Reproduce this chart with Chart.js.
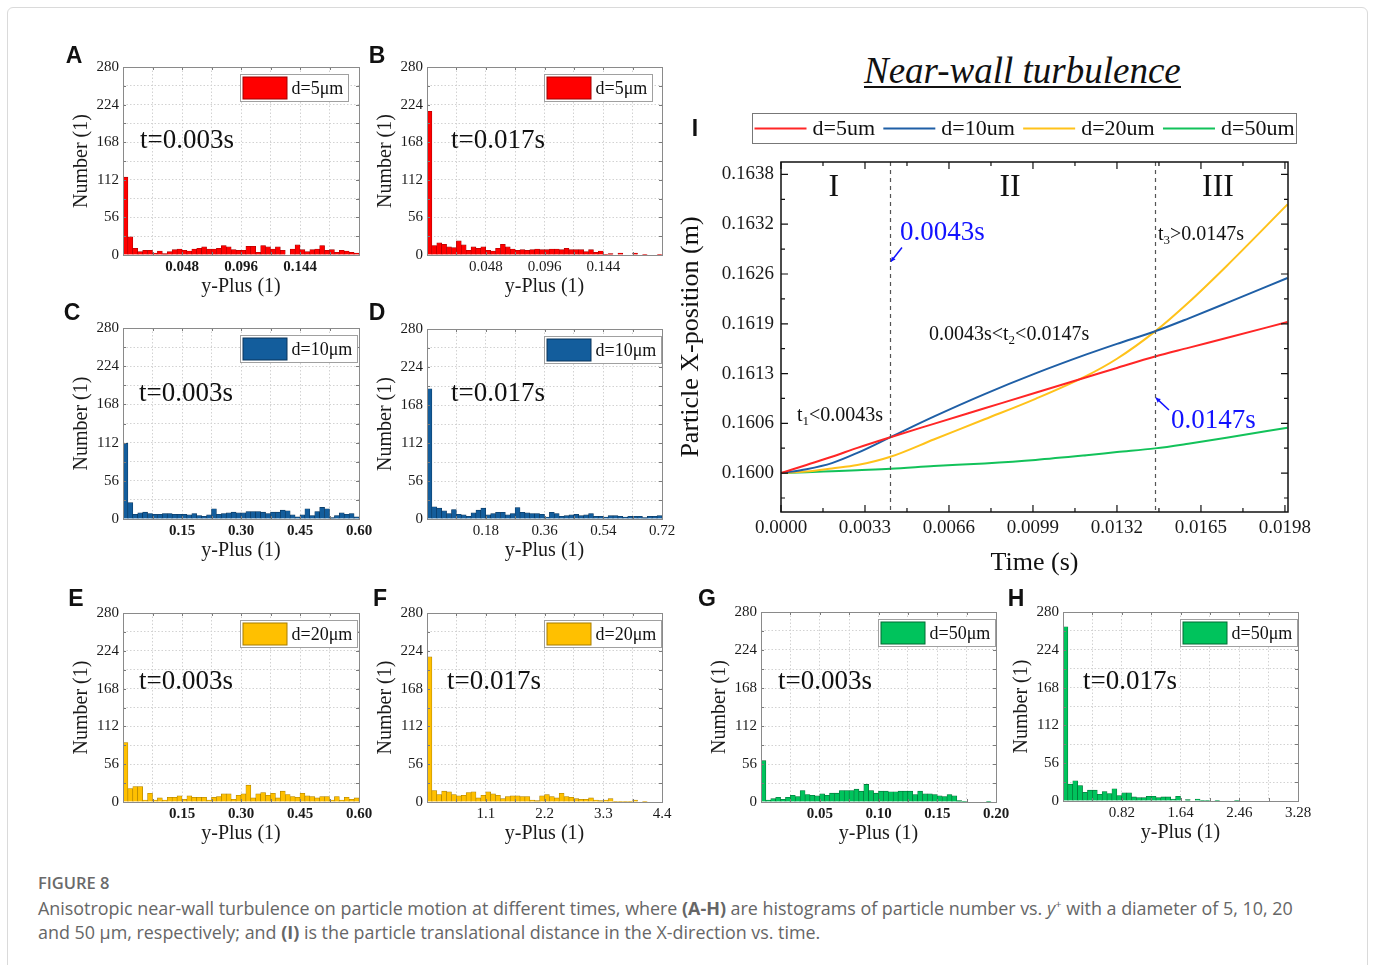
<!DOCTYPE html>
<html>
<head>
<meta charset="utf-8">
<title>Near-wall turbulence</title>
<script src="https://cdn.jsdelivr.net/npm/chart.js@4.4.1/dist/chart.umd.min.js"></script>
<style>
  html, body { margin: 0; padding: 0; background: #fff; }
  body { width: 1373px; height: 965px; position: relative; overflow: hidden; }
  .card { position: absolute; left: 7px; top: 7px; width: 1359px; height: 990px; border: 1px solid #dadada; border-radius: 6px; }
  canvas { position: absolute; }
  .tag { position: absolute; font: bold 23px "Liberation Sans", Arial, sans-serif; color: #111; line-height: 23px; transform: translate(-50%, -50%); }
  .heading { position: absolute; left: 864px; top: 49px; height: 37px; line-height: 37px; font: italic 37px "Liberation Serif", serif; color: #111; border-bottom: 2px solid #111; white-space: nowrap; }
  .fig { position: absolute; left: 38px; top: 871px; font: 600 16.5px "Open Sans", sans-serif; color: #6a6a6a; }
  .cap { position: absolute; left: 38px; top: 892px; font: 17.9px/24px "Open Sans", sans-serif; color: #666; white-space: nowrap; }
</style>
</head>
<body>
<div class="card"></div>

<div class="heading">Near-wall turbulence</div>

<canvas id="cA"></canvas><canvas id="cB"></canvas>
<canvas id="cC"></canvas><canvas id="cD"></canvas>
<canvas id="cE"></canvas><canvas id="cF"></canvas>
<canvas id="cG"></canvas><canvas id="cH"></canvas>
<canvas id="cI" width="646" height="485" style="left:672px;top:100px"></canvas>

<div class="tag" style="left:74px;top:55px">A</div>
<div class="tag" style="left:377px;top:55px">B</div>
<div class="tag" style="left:72px;top:312px">C</div>
<div class="tag" style="left:377px;top:312px">D</div>
<div class="tag" style="left:76px;top:598px">E</div>
<div class="tag" style="left:380px;top:598px">F</div>
<div class="tag" style="left:707px;top:598px">G</div>
<div class="tag" style="left:1016px;top:598px">H</div>
<div class="tag" style="left:695px;top:128px">I</div>

<div class="fig">FIGURE 8</div>
<div class="cap">Anisotropic near-wall turbulence on particle motion at different times, where <b>(A-H)</b> are histograms of particle number vs. <i>y</i><sup style="font-size:11px">+</sup> with a diameter of 5, 10, 20<br>and 50 μm, respectively; and <b>(I)</b> is the particle translational distance in the X-direction vs. time.</div>

<script>
// ---------- histogram counts (48 equal bins from 0 to the axis maximum) ----------
const countsA = [116, 27, 10, 5, 7, 7, 3, 6, 2, 5, 8, 9, 7, 6, 9, 10, 12, 9, 9, 10, 14, 12, 8, 7,
                 7, 13, 13, 4, 14, 12, 9, 12, 7, 0, 9, 15, 8, 5, 8, 9, 14, 7, 8, 4, 7, 6, 4, 3];
const countsB = [214, 14, 18, 16, 12, 11, 21, 15, 7, 12, 10, 12, 7, 6, 10, 16, 12, 9, 7, 8, 7, 8, 9, 8,
                 8, 9, 9, 8, 10, 8, 8, 8, 5, 8, 4, 6, 1, 2, 0, 3, 0, 0, 3, 0, 1, 0, 0, 1];
const countsC = [111, 24, 7, 9, 10, 8, 7, 7, 8, 8, 7, 7, 7, 6, 8, 5, 4, 6, 15, 7, 8, 9, 10, 9,
                 9, 11, 11, 11, 10, 8, 10, 10, 13, 12, 6, 3, 6, 15, 5, 11, 17, 15, 2, 5, 9, 7, 8, 3];
const countsD = [192, 18, 16, 12, 8, 14, 7, 6, 4, 9, 13, 16, 6, 8, 10, 10, 6, 8, 17, 10, 9, 8, 8, 7,
                 3, 10, 8, 4, 5, 6, 7, 5, 6, 8, 4, 4, 3, 5, 5, 4, 3, 4, 4, 4, 2, 4, 4, 5];
const countsE = [88, 20, 23, 23, 3, 13, 3, 6, 3, 7, 7, 9, 4, 9, 7, 7, 7, 3, 7, 8, 12, 12, 4, 10,
                 12, 25, 6, 12, 14, 10, 13, 6, 16, 11, 8, 7, 13, 9, 8, 6, 8, 8, 3, 8, 3, 7, 4, 6];
const countsF = [215, 17, 11, 16, 15, 11, 9, 10, 14, 15, 6, 10, 15, 12, 10, 5, 8, 9, 9, 8, 8, 3, 2, 9,
                 11, 8, 6, 13, 8, 7, 5, 4, 4, 6, 3, 2, 3, 5, 1, 1, 1, 1, 3, 0, 1, 0, 0, 0];
const countsG = [61, 3, 5, 7, 4, 7, 10, 8, 17, 11, 10, 9, 12, 10, 13, 13, 17, 17, 17, 19, 16, 26, 17, 13,
                 16, 16, 15, 15, 16, 16, 16, 11, 16, 12, 12, 11, 9, 8, 11, 9, 2, 1, 0, 0, 0, 0, 1, 0];
const countsH = [258, 25, 30, 23, 13, 16, 16, 10, 14, 11, 18, 8, 12, 12, 6, 5, 5, 7, 7, 5, 6, 6, 3, 7,
                 0, 2, 0, 3, 1, 1, 0, 1, 0, 0, 0, 1, 0, 0, 0, 0, 0, 0, 0, 0, 0, 0, 0, 0];

const countTicks = [0, 28, 56, 84, 112, 140, 168, 196, 224, 252, 280];

// ---------- particle X-position vs time ----------
const timeS  = [0, 0.001, 0.002, 0.003, 0.0043, 0.006, 0.008, 0.010, 0.012, 0.0132, 0.0147, 0.016, 0.0175, 0.0199];
const posD5  = [0.16, 0.160105, 0.160210, 0.160325, 0.160462, 0.160633, 0.160833, 0.161033, 0.161232, 0.161352, 0.161499, 0.161610, 0.161737, 0.161942];
const posD10 = [0.16, 0.160051, 0.160129, 0.160260, 0.160462, 0.160726, 0.161016, 0.161282, 0.161526, 0.161662, 0.161824, 0.161987, 0.162185, 0.162509];
const posD20 = [0.16, 0.160021, 0.160060, 0.160103, 0.160210, 0.160432, 0.160692, 0.160955, 0.161250, 0.161470, 0.161822, 0.162190, 0.162660, 0.163454];
const posD50 = [0.16, 0.160012, 0.160025, 0.160038, 0.160055, 0.160090, 0.160125, 0.160170, 0.160230, 0.160270, 0.160318, 0.160378, 0.160455, 0.160584];

const phaseBounds = [0.0043, 0.0147];
const phaseLabels = ['I', 'II', 'III'];
const phaseLabelT = [0.00208, 0.0090, 0.01717];

const SERIF = '"Liberation Serif", "Times New Roman", serif';

const COLORS = {
  red:    { fill: '#ff0000', edge: '#a00000', line: '#ff2626' },
  blue:   { fill: '#135d9c', edge: '#0a345a', line: '#1f5fa6' },
  yellow: { fill: '#ffc000', edge: '#a67c00', line: '#ffc21a' },
  green:  { fill: '#00c35c', edge: '#006a32', line: '#12c25a' }
};

// frame, inward ticks, legend box and time label for the histogram panels
const histDecor = {
  id: 'histDecor',
  afterDatasetsDraw(chart, args, o) {
    const ctx = chart.ctx, a = chart.chartArea;
    ctx.save();
    ctx.strokeStyle = '#7a7a7a';
    ctx.lineWidth = 1;
    chart.scales.xv.ticks.forEach(t => {
      const px = Math.round(chart.scales.xv.getPixelForValue(t.value)) + 0.5;
      ctx.beginPath();
      ctx.moveTo(px, a.bottom); ctx.lineTo(px, a.bottom - 3);
      ctx.moveTo(px, a.top); ctx.lineTo(px, a.top + 3);
      ctx.stroke();
    });
    chart.scales.y.ticks.forEach(t => {
      const py = Math.round(chart.scales.y.getPixelForValue(t.value)) + 0.5;
      ctx.beginPath();
      ctx.moveTo(a.left, py); ctx.lineTo(a.left + 3, py);
      ctx.moveTo(a.right, py); ctx.lineTo(a.right - 3, py);
      ctx.stroke();
    });
    ctx.strokeStyle = '#8a8a8a';
    ctx.strokeRect(Math.round(a.left) + 0.5, Math.round(a.top) + 0.5,
                   Math.round(a.right - a.left), Math.round(a.bottom - a.top));

    // legend
    const ds = chart.data.datasets[0];
    ctx.font = '18px ' + SERIF;
    const tw = ctx.measureText(ds.label).width;
    const bx = Math.round(a.left + 117) + 0.5, by = Math.round(a.top + 7) + 0.5;
    const bw = Math.round(2 + 44 + 5 + tw + 5), bh = 27;
    ctx.fillStyle = '#fff';
    ctx.fillRect(bx, by, bw, bh);
    ctx.strokeStyle = '#a0a0a0';
    ctx.strokeRect(bx, by, bw, bh);
    ctx.fillStyle = ds.backgroundColor;
    ctx.fillRect(bx + 2.5, by + 2.5, 44, bh - 5);
    ctx.strokeStyle = ds.borderColor;
    ctx.strokeRect(bx + 2.5, by + 2.5, 44, bh - 5);
    ctx.fillStyle = '#111';
    ctx.textBaseline = 'middle';
    ctx.textAlign = 'left';
    ctx.fillText(ds.label, bx + 51, by + bh / 2 + 1);

    // time stamp
    ctx.font = '27px ' + SERIF;
    ctx.fillText(o.time, a.left + o.timeAt[0], a.top + o.timeAt[1]);
    ctx.restore();
  }
};

const histPanels = [
  { id: 'cA', rect: [123, 66, 359, 255], counts: countsA, c: COLORS.red,    label: 'd=5μm',  time: 't=0.003s', timeAt: [17, 74], xMax: 0.192, step: 0.024, dec: 3, lastLabel: false, bold: true },
  { id: 'cB', rect: [427, 66, 662, 255], counts: countsB, c: COLORS.red,    label: 'd=5μm',  time: 't=0.017s', timeAt: [24, 74], xMax: 0.192, step: 0.024, dec: 3, lastLabel: false, bold: false },
  { id: 'cC', rect: [123, 327, 359, 519], counts: countsC, c: COLORS.blue,  label: 'd=10μm', time: 't=0.003s', timeAt: [16, 66], xMax: 0.60, step: 0.075, dec: 2, lastLabel: true, bold: true },
  { id: 'cD', rect: [427, 328, 662, 519], counts: countsD, c: COLORS.blue,  label: 'd=10μm', time: 't=0.017s', timeAt: [24, 65], xMax: 0.72, step: 0.09, dec: 2, lastLabel: true, bold: false },
  { id: 'cE', rect: [123, 612, 359, 802], counts: countsE, c: COLORS.yellow, label: 'd=20μm', time: 't=0.003s', timeAt: [16, 69], xMax: 0.60, step: 0.075, dec: 2, lastLabel: true, bold: true },
  { id: 'cF', rect: [427, 612, 662, 802], counts: countsF, c: COLORS.yellow, label: 'd=20μm', time: 't=0.017s', timeAt: [20, 69], xMax: 4.4, step: 0.55, dec: 1, lastLabel: true, bold: false },
  { id: 'cG', rect: [761, 611, 996, 802], counts: countsG, c: COLORS.green, label: 'd=50μm', time: 't=0.003s', timeAt: [17, 70], xMax: 0.20, step: 0.025, dec: 2, lastLabel: true, bold: true },
  { id: 'cH', rect: [1063, 611, 1298, 801], counts: countsH, c: COLORS.green, label: 'd=50μm', time: 't=0.017s', timeAt: [20, 70], xMax: 3.28, step: 0.41, dec: 2, lastLabel: true, bold: false }
];

function makeHistogram(p) {
  const [L, T, R, B] = p.rect;
  const padL = 53, padT = 12, padR = 20, padB = 44;
  const cv = document.getElementById(p.id);
  cv.width = R - L + padL + padR;
  cv.height = B - T + padT + padB;
  cv.style.left = (L - padL) + 'px';
  cv.style.top = (T - padT) + 'px';
  const n = Math.round(p.xMax / p.step);

  new Chart(cv, {
    type: 'bar',
    data: {
      labels: p.counts.map((_, i) => String(i)),
      datasets: [{
        label: p.label,
        data: p.counts,
        backgroundColor: p.c.fill,
        borderColor: p.c.edge,
        borderWidth: 0.6,
        barPercentage: 1,
        categoryPercentage: 1,
        xAxisID: 'x',
        yAxisID: 'y'
      }]
    },
    options: {
      responsive: false,
      animation: false,
      layout: { padding: { left: 0, top: padT, right: padR, bottom: 0 } },
      plugins: { legend: { display: false }, tooltip: { enabled: false }, histDecor: { time: p.time, timeAt: p.timeAt } },
      scales: {
        x: { type: 'category', display: false, offset: true },
        xv: {
          type: 'linear', position: 'bottom', min: 0, max: p.xMax, offset: false,
          afterBuildTicks: s => { s.ticks = []; for (let k = 0; k <= n; k++) s.ticks.push({ value: k * p.step }); },
          ticks: {
            autoSkip: false, maxRotation: 0, padding: 3, color: '#1a1a1a',
            font: { family: SERIF, size: 15, weight: p.bold ? 'bold' : 'normal' },
            callback: (v, k) => (k % 2 === 0 && k > 0 && (k < n || p.lastLabel)) ? (k * p.step).toFixed(p.dec) : ''
          },
          grid: { color: '#d2d2d2', lineWidth: 1, drawTicks: false, offset: false },
          border: { display: false, dash: [1.5, 2] },
          title: { display: true, text: 'y-Plus (1)', color: '#1a1a1a', font: { family: SERIF, size: 20, lineHeight: 1.2 }, padding: { top: 0, bottom: 0 } },
          afterFit: s => { s.height = padB; }
        },
        y: {
          min: 0, max: 280,
          afterBuildTicks: s => { s.ticks = countTicks.map(v => ({ value: v })); },
          ticks: {
            autoSkip: false, padding: 4, color: '#1a1a1a',
            font: { family: SERIF, size: 15 },
            callback: v => (v % 56 === 0 ? String(v) : '')
          },
          grid: { color: '#d2d2d2', lineWidth: 1, drawTicks: false },
          border: { display: false, dash: [1.5, 2] },
          title: { display: true, text: 'Number (1)', color: '#1a1a1a', font: { family: SERIF, size: 20, lineHeight: 1.2 }, padding: { top: 0, bottom: 0 } },
          afterFit: s => { s.width = padL; }
        }
      }
    },
    plugins: [histDecor]
  });
}

histPanels.forEach(makeHistogram);

// ---------- panel I ----------
const BLUE_NOTE = '#1212ff';
const notes = [
  { t: 0.004675, v: 0.163094, size: 27, color: BLUE_NOTE, runs: [['0.0043s']] },
  { t: 0.015321, v: 0.160670, size: 27, color: BLUE_NOTE, runs: [['0.0147s']] },
  { t: 0.014811, v: 0.163068, size: 20, color: '#111', runs: [['t'], ['3', 1], ['>0.0147s']] },
  { t: 0.005814, v: 0.161779, size: 20, color: '#111', runs: [['0.0043s<t'], ['2', 1], ['<0.0147s']] },
  { t: 0.000629, v: 0.160735, size: 20, color: '#111', runs: [['t'], ['1', 1], ['<0.0043s']] }
];
const arrows = [
  { from: [0.004754, 0.162900], to: [0.004321, 0.162720] },
  { from: [0.015243, 0.160812], to: [0.014732, 0.160967] }
];

const timeDecor = {
  id: 'timeDecor',
  afterDraw(chart) {
    const ctx = chart.ctx, a = chart.chartArea;
    const xs = chart.scales.x, ys = chart.scales.y;
    ctx.save();

    // phase boundaries
    ctx.strokeStyle = '#555';
    ctx.lineWidth = 1.2;
    ctx.setLineDash([4, 4]);
    phaseBounds.forEach(t => {
      const px = Math.round(xs.getPixelForValue(t)) + 0.5;
      ctx.beginPath(); ctx.moveTo(px, a.top); ctx.lineTo(px, a.bottom); ctx.stroke();
    });
    ctx.setLineDash([]);

    // frame with inward ticks
    ctx.strokeStyle = '#111';
    ctx.lineWidth = 1.5;
    ctx.strokeRect(a.left, a.top, a.right - a.left, a.bottom - a.top);
    ctx.lineWidth = 1.2;
    xs.ticks.forEach((t, k) => {
      const px = xs.getPixelForValue(t.value), len = k % 2 === 0 ? 7 : 4;
      ctx.beginPath();
      ctx.moveTo(px, a.bottom); ctx.lineTo(px, a.bottom - len);
      ctx.moveTo(px, a.top); ctx.lineTo(px, a.top + len);
      ctx.stroke();
    });
    ys.ticks.forEach((t, k) => {
      const py = ys.getPixelForValue(t.value), len = k % 2 === 1 ? 7 : 4;
      ctx.beginPath();
      ctx.moveTo(a.left, py); ctx.lineTo(a.left + len, py);
      ctx.moveTo(a.right, py); ctx.lineTo(a.right - len, py);
      ctx.stroke();
    });

    // phase names
    ctx.fillStyle = '#111';
    ctx.textAlign = 'center';
    ctx.textBaseline = 'middle';
    ctx.font = '32px ' + SERIF;
    phaseLabels.forEach((s, i) => ctx.fillText(s, xs.getPixelForValue(phaseLabelT[i]), ys.getPixelForValue(0.163674)));

    // notes with subscripts
    ctx.textAlign = 'left';
    notes.forEach(nt => {
      let x = xs.getPixelForValue(nt.t);
      const y = ys.getPixelForValue(nt.v);
      ctx.fillStyle = nt.color;
      nt.runs.forEach(([s, sub]) => {
        const size = sub ? Math.round(nt.size * 0.65) : nt.size;
        ctx.font = size + 'px ' + SERIF;
        ctx.fillText(s, x, sub ? y + nt.size * 0.3 : y);
        x += ctx.measureText(s).width;
      });
    });

    // arrows
    ctx.strokeStyle = BLUE_NOTE;
    ctx.fillStyle = BLUE_NOTE;
    ctx.lineWidth = 1.5;
    arrows.forEach(ar => {
      const x1 = xs.getPixelForValue(ar.from[0]), y1 = ys.getPixelForValue(ar.from[1]);
      const x2 = xs.getPixelForValue(ar.to[0]), y2 = ys.getPixelForValue(ar.to[1]);
      const ang = Math.atan2(y2 - y1, x2 - x1);
      ctx.beginPath(); ctx.moveTo(x1, y1); ctx.lineTo(x2, y2); ctx.stroke();
      ctx.beginPath();
      ctx.moveTo(x2, y2);
      ctx.lineTo(x2 - 5 * Math.cos(ang - 0.5), y2 - 5 * Math.sin(ang - 0.5));
      ctx.lineTo(x2 - 5 * Math.cos(ang + 0.5), y2 - 5 * Math.sin(ang + 0.5));
      ctx.closePath(); ctx.fill();
    });

    // legend box above the plot
    const box = { x: 80.5, y: 13.5, w: 544, h: 30 };
    ctx.strokeStyle = '#777';
    ctx.lineWidth = 1;
    ctx.strokeRect(box.x, box.y, box.w, box.h);
    ctx.font = '22px ' + SERIF;
    const lineLen = 52, gap = 6;
    const sets = chart.data.datasets;
    const widths = sets.map(d => ctx.measureText(d.label).width);
    const used = widths.reduce((s, w) => s + w, 0) + sets.length * (lineLen + gap);
    const spacing = (box.w - 4 - used) / (sets.length - 1);
    let lx = box.x + 2;
    const cy = box.y + box.h / 2;
    sets.forEach((d, i) => {
      ctx.strokeStyle = d.borderColor;
      ctx.lineWidth = 2;
      ctx.beginPath(); ctx.moveTo(lx, cy); ctx.lineTo(lx + lineLen, cy); ctx.stroke();
      lx += lineLen + gap;
      ctx.fillStyle = '#111';
      ctx.fillText(d.label, lx, cy + 1);
      lx += widths[i] + spacing;
    });
    ctx.restore();
  }
};

const series = (ys) => timeS.map((t, i) => ({ x: t, y: ys[i] }));

new Chart(document.getElementById('cI'), {
  type: 'line',
  data: {
    datasets: [
      { label: 'd=5um',  data: series(posD5),  borderColor: COLORS.red.line },
      { label: 'd=10um', data: series(posD10), borderColor: COLORS.blue.line },
      { label: 'd=20um', data: series(posD20), borderColor: COLORS.yellow.line },
      { label: 'd=50um', data: series(posD50), borderColor: COLORS.green.line }
    ]
  },
  options: {
    responsive: false,
    animation: false,
    layout: { padding: { left: 0, top: 62, right: 30, bottom: 0 } },
    elements: { point: { radius: 0 }, line: { borderWidth: 2, cubicInterpolationMode: 'monotone' } },
    plugins: { legend: { display: false }, tooltip: { enabled: false } },
    scales: {
      x: {
        type: 'linear', min: 0, max: 0.01992,
        afterBuildTicks: s => { s.ticks = []; for (let k = 0; k <= 12; k++) s.ticks.push({ value: k * 0.00165 }); },
        ticks: {
          autoSkip: false, maxRotation: 0, padding: 5, color: '#1a1a1a',
          font: { family: SERIF, size: 19 },
          callback: (v, k) => (k % 2 === 0 ? (k * 0.00165).toFixed(4) : '')
        },
        grid: { display: false, drawTicks: false },
        border: { display: false },
        title: { display: true, text: 'Time (s)', color: '#111', font: { family: SERIF, size: 26, lineHeight: 1.2 }, padding: { top: 0, bottom: 6 } },
        afterFit: s => { s.height = 73; }
      },
      y: {
        type: 'linear', min: 0.1595, max: 0.164,
        afterBuildTicks: s => { s.ticks = []; for (let k = -1; k <= 12; k++) s.ticks.push({ value: 0.16 + k * 0.00032 }); },
        ticks: {
          autoSkip: false, padding: 7, color: '#1a1a1a',
          font: { family: SERIF, size: 19 },
          callback: (v, k) => (k % 2 === 1 ? (0.16 + (k - 1) * 0.00032).toFixed(4) : '')
        },
        grid: { display: false, drawTicks: false },
        border: { display: false },
        title: { display: true, text: 'Particle X-position (m)', color: '#111', font: { family: SERIF, size: 26, lineHeight: 1.2 }, padding: { top: 4, bottom: 0 } },
        afterFit: s => { s.width = 109; }
      }
    }
  },
  plugins: [timeDecor]
});
</script>
</body>
</html>
